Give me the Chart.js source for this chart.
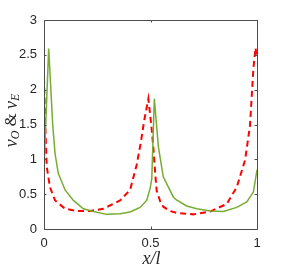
<!DOCTYPE html>
<html>
<head>
<meta charset="utf-8">
<script src="https://cdn.jsdelivr.net/npm/chart.js@4"></script>
<style>
html,body{margin:0;padding:0;background:#fff;}
#wrap{position:relative;width:284px;height:269px;}
</style>
</head>
<body>
<div id="wrap"><canvas id="c" width="284" height="269"></canvas></div>
<script>
// Data
const greenX = [0, 0.022, 0.041, 0.052, 0.067, 0.099, 0.138, 0.185, 0.232, 0.294, 0.357, 0.404, 0.451, 0.482, 0.498, 0.506, 0.518, 0.537, 0.56, 0.607, 0.62, 0.67, 0.717, 0.78, 0.842, 0.905, 0.952, 0.983, 1.0];
const greenY = [0.88, 2.59, 1.49, 1.08, 0.80, 0.56, 0.41, 0.29, 0.25, 0.21, 0.22, 0.245, 0.31, 0.41, 0.58, 0.72, 1.87, 1.18, 0.75, 0.46, 0.42, 0.33, 0.29, 0.26, 0.25, 0.31, 0.39, 0.53, 0.85];
const redX = [0, 0.005, 0.013, 0.028, 0.052, 0.099, 0.153, 0.216, 0.278, 0.357, 0.404, 0.435, 0.455, 0.47, 0.49, 0.505, 0.513, 0.522, 0.529, 0.545, 0.56, 0.59, 0.623, 0.70, 0.78, 0.858, 0.905, 0.944, 0.967, 0.983, 0.993, 1.0];
const redY = [2.17, 1.56, 0.89, 0.60, 0.41, 0.29, 0.26, 0.26, 0.29, 0.41, 0.56, 0.92, 1.25, 1.55, 1.87, 1.45, 1.18, 0.80, 0.55, 0.40, 0.32, 0.26, 0.23, 0.21, 0.25, 0.36, 0.60, 0.99, 1.48, 2.30, 2.60, 2.45];
const xTicks = [0, 0.5, 1];
const yTicks = [0, 0.5, 1, 1.5, 2, 2.5, 3];
const xTitle = 'x/l';

const toPts = (xs, ys) => xs.map((x, i) => ({x: x, y: ys[i]}));
const axisColor = '#4d4d4d';

const framePlugin = {
  id: 'frame',
  afterDraw(chart) {
    const ctx = chart.ctx, a = chart.chartArea;
    const xs = chart.scales.x, ys = chart.scales.y;
    ctx.save();
    ctx.strokeStyle = axisColor;
    ctx.lineWidth = 1;
    ctx.strokeRect(Math.round(a.left) + 0.5, Math.round(a.top) + 0.5, Math.round(a.right - a.left), Math.round(a.bottom - a.top));
    const tl = 2.5;
    ctx.beginPath();
    xTicks.forEach(v => {
      const px = Math.round(xs.getPixelForValue(v)) + 0.5;
      ctx.moveTo(px, a.bottom); ctx.lineTo(px, a.bottom - tl);
      ctx.moveTo(px, a.top); ctx.lineTo(px, a.top + tl);
    });
    yTicks.forEach(v => {
      const py = Math.round(ys.getPixelForValue(v)) + 0.5;
      ctx.moveTo(a.left, py); ctx.lineTo(a.left + tl, py);
      ctx.moveTo(a.right, py); ctx.lineTo(a.right - tl, py);
    });
    ctx.stroke();
    // axis titles (LaTeX-like italic serif)
    ctx.fillStyle = '#262626';
    ctx.textAlign = 'center';
    ctx.textBaseline = 'middle';
    ctx.font = 'italic 18px "Liberation Serif", "DejaVu Serif", serif';
    ctx.fillText(xTitle, (a.left + a.right) / 2 + 1, 259);
    // y title rotated: ν_O & ν_E
    ctx.translate(12, (a.top + a.bottom) / 2 - 4);
    ctx.rotate(-Math.PI / 2);
    const big = 'italic 18px "Liberation Serif", "DejaVu Serif", serif';
    const sub = 'italic 12px "Liberation Serif", "DejaVu Serif", serif';
    const amp = '17px "Liberation Serif", "DejaVu Serif", serif';
    const parts = [[ 'ν', big, 0 ], [ 'O', sub, 4 ], [ ' & ', amp, 0 ], [ 'ν', big, 0 ], [ 'E', sub, 4 ]];
    let w = 0;
    parts.forEach(p => { ctx.font = p[1]; w += ctx.measureText(p[0]).width; });
    let x0 = -w / 2;
    ctx.textAlign = 'left';
    parts.forEach(p => { ctx.font = p[1]; ctx.fillText(p[0], x0, p[2]); x0 += ctx.measureText(p[0]).width; });
    ctx.restore();
  }
};

const tickFont = { family: '"Liberation Sans", Arial, sans-serif', size: 13 };

new Chart(document.getElementById('c'), {
  type: 'scatter',
  data: {
    datasets: [
      { label: 'nu_O', data: toPts(greenX, greenY), showLine: true, borderColor: '#77AC30', borderWidth: 1.5, pointRadius: 0, fill: false, tension: 0 },
      { label: 'nu_E', data: toPts(redX, redY), showLine: true, borderColor: '#FF0000', borderWidth: 2, borderDash: [6, 4], pointRadius: 0, fill: false, tension: 0 }
    ]
  },
  options: {
    responsive: false,
    animation: false,
    devicePixelRatio: 1,
    layout: { padding: { left: 0, top: 20, right: 27, bottom: 0 } },
    plugins: { legend: { display: false }, tooltip: { enabled: false } },
    scales: {
      x: {
        type: 'linear', min: 0, max: 1,
        afterBuildTicks: s => { s.ticks = xTicks.map(v => ({value: v})); },
        afterFit: s => { s.height = 40; },
        grid: { display: false, drawTicks: false },
        border: { display: false },
        ticks: { color: '#262626', font: tickFont, padding: 7, maxRotation: 0, callback: v => String(v) }
      },
      y: {
        type: 'linear', min: 0, max: 3,
        afterBuildTicks: s => { s.ticks = yTicks.map(v => ({value: v})); },
        afterFit: s => { s.width = 44; },
        grid: { display: false, drawTicks: false },
        border: { display: false },
        ticks: { color: '#262626', font: tickFont, padding: 7, callback: v => String(v) }
      }
    }
  },
  plugins: [framePlugin]
});
</script>
</body>
</html>
